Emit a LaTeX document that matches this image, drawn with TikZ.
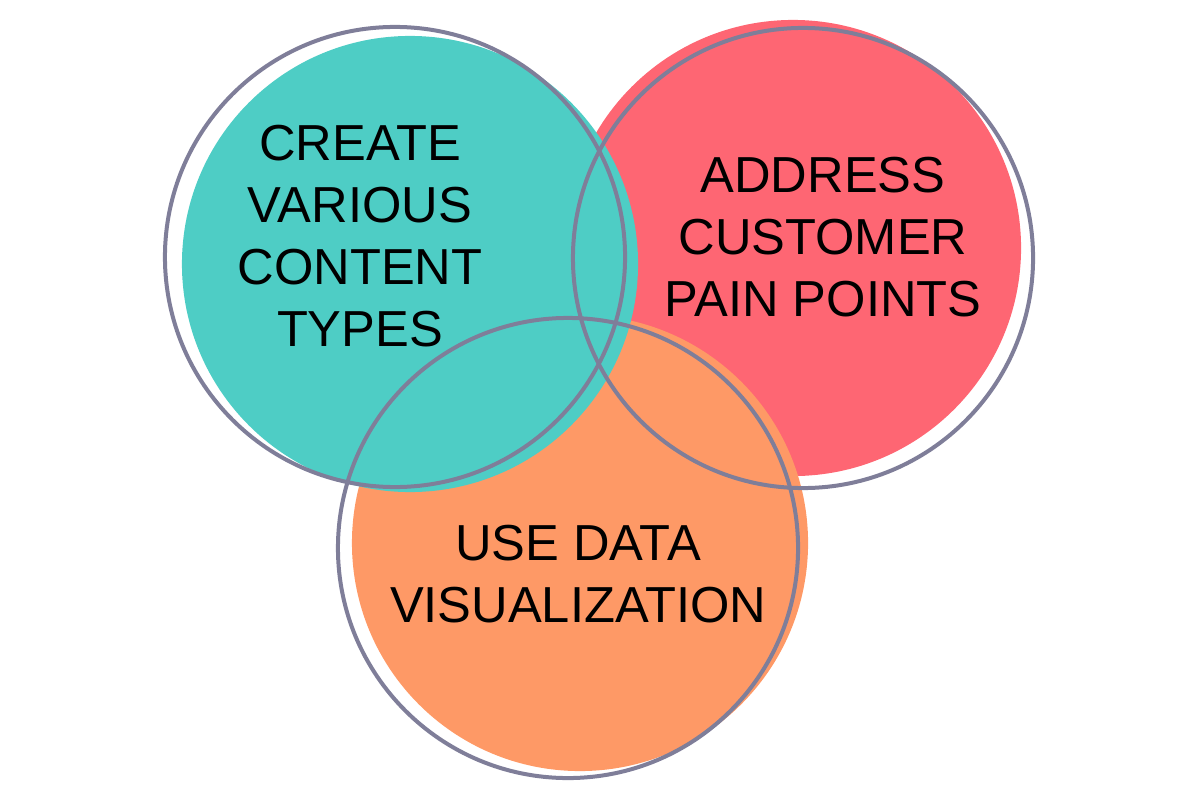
\documentclass[tikz,border=0pt]{standalone}
\usepackage{fontspec}
\setmainfont{Liberation Sans}
\usetikzlibrary{positioning}
\definecolor{VennTeal}{HTML}{4ECDC5}
\definecolor{VennRed}{HTML}{FE6673}
\definecolor{VennOrange}{HTML}{FE9966}
\definecolor{VennRing}{HTML}{7F7E99}

\begin{document}
\begin{tikzpicture}[x=0.025cm,y=-0.025cm,
  blob/.style={circle,minimum size=11.4cm,inner sep=0pt},
  ring/.style={circle,draw=VennRing,line width=0.1cm,minimum size=11.5cm,inner sep=0pt},
  vennlabel/.style={align=center,font=\fontsize{36}{44}\selectfont,text=black}
]
\useasboundingbox (0,0) rectangle (1200,800);
% coloured discs
\node[blob,fill=VennRed] (redfill) at (793,248) {};
\node[blob,fill=VennOrange] (orangefill) at (580,543) {};
\node[blob,fill=VennTeal] (tealfill) at (410,264) {};
% outline rings
\node[ring] (tealring) at (395,257) {};
\node[ring] (redring) at (803,258) {};
\node[ring] (orangering) at (568,548) {};
% labels
\node[vennlabel] (tealtext) at (360,236) {CREATE\\VARIOUS\\CONTENT\\TYPES};
\node[vennlabel] (redtext) at (823,237) {ADDRESS\\CUSTOMER\\PAIN POINTS};
\node[vennlabel] (orangetext) at (578,574) {USE DATA\\VISUALIZATION};
\end{tikzpicture}
\end{document}
